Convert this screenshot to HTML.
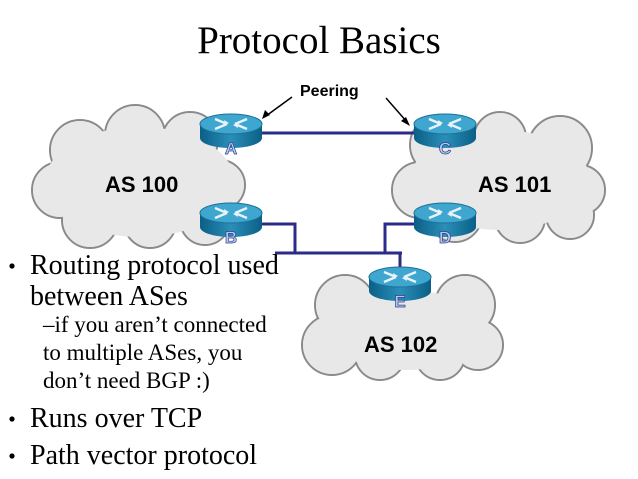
<!DOCTYPE html>
<html><head><style>
body{margin:0;width:638px;height:479px;background:#fff;overflow:hidden;position:relative;font-family:"Liberation Serif",serif}
.t{position:absolute;white-space:nowrap}
</style></head><body>
<svg width="638" height="479" style="position:absolute;left:0;top:0">
<defs>
<linearGradient id="rs" x1="0" x2="1"><stop offset="0" stop-color="#0b5f86"/><stop offset="0.5" stop-color="#2a8fb8"/><stop offset="1" stop-color="#0b5f86"/></linearGradient>
<g id="rt">
<path d="M-31 10V24A31 10 0 0 0 31 24V10Z" fill="url(#rs)"/>
<ellipse cx="0" cy="10" rx="31" ry="10" fill="#3ea6cf" stroke="#1a7099" stroke-width="1"/>
<g stroke="#e8f4fa" stroke-width="2.4" fill="none">
<path d="M-16 5L-4 10M16 15L4 10M-16 15L-4 10M16 5L4 10"/>
</g>
<g fill="#e8f4fa"><path d="M-2 9L-7 6L-6 11Z"/><path d="M2 11L7 14L6 9Z"/></g>
</g>
</defs>
<g stroke="#8a8a8a" stroke-width="2" fill="#e8e8e8">
<circle cx="80" cy="150" r="30"/><circle cx="135" cy="135" r="30"/><circle cx="190" cy="140" r="28"/>
<circle cx="60" cy="190" r="28"/><circle cx="220" cy="185" r="25"/><circle cx="90" cy="220" r="28"/>
<circle cx="150" cy="222" r="26"/><circle cx="205" cy="220" r="25"/>
<circle cx="440" cy="145" r="30"/><circle cx="500" cy="138" r="26"/><circle cx="560" cy="148" r="32"/>
<circle cx="420" cy="190" r="28"/><circle cx="580" cy="190" r="25"/><circle cx="455" cy="215" r="27"/>
<circle cx="520" cy="218" r="25"/><circle cx="570" cy="215" r="24"/>
<circle cx="345" cy="305" r="30"/><circle cx="405" cy="295" r="25"/><circle cx="465" cy="305" r="30"/>
<circle cx="332" cy="345" r="30"/><circle cx="478" cy="345" r="25"/><circle cx="380" cy="355" r="25"/>
<circle cx="440" cy="355" r="25"/>
</g>
<g fill="#e8e8e8" stroke="none">
<circle cx="80" cy="150" r="29"/><circle cx="135" cy="135" r="29"/><circle cx="190" cy="140" r="27"/>
<circle cx="60" cy="190" r="27"/><circle cx="220" cy="185" r="24"/><circle cx="90" cy="220" r="27"/>
<circle cx="150" cy="222" r="25"/><circle cx="205" cy="220" r="24"/>
<ellipse cx="140" cy="182" rx="95" ry="55"/>
<circle cx="440" cy="145" r="29"/><circle cx="500" cy="138" r="25"/><circle cx="560" cy="148" r="31"/>
<circle cx="420" cy="190" r="27"/><circle cx="580" cy="190" r="24"/><circle cx="455" cy="215" r="26"/>
<circle cx="520" cy="218" r="24"/><circle cx="570" cy="215" r="23"/>
<ellipse cx="500" cy="180" rx="90" ry="50"/>
<circle cx="345" cy="305" r="29"/><circle cx="405" cy="295" r="24"/><circle cx="465" cy="305" r="29"/>
<circle cx="332" cy="345" r="29"/><circle cx="478" cy="345" r="24"/><circle cx="380" cy="355" r="24"/>
<circle cx="440" cy="355" r="24"/>
<ellipse cx="405" cy="330" rx="80" ry="40"/>
</g>
<g stroke="#2b2b8a" stroke-width="3" fill="none">
<path d="M255 133H420"/>
<path d="M255 224H295V253"/>
<path d="M275 253H402"/>
<path d="M418 224H385V253"/>
<path d="M400 253V272"/>
</g>
<g stroke="#000" stroke-width="1.5">
<path d="M292 97L266 116"/><path d="M386 98L407 122"/>
</g>
<path d="M262 119L265 110L270 115Z"/><path d="M410 126L401 121L406 117Z"/>
<use href="#rt" x="231" y="114"/>
<use href="#rt" x="445" y="114"/>
<use href="#rt" x="231" y="203"/>
<use href="#rt" x="445" y="203"/>
<use href="#rt" x="400" y="267"/>
<g font-family="Liberation Sans,sans-serif" font-weight="bold" font-size="17" fill="#b9c8f0" stroke="#2b3f8a" stroke-width="0.7" text-anchor="middle">
<text x="231" y="154">A</text><text x="445" y="154">C</text>
<text x="231" y="243">B</text><text x="445" y="243">D</text>
<text x="400" y="307">E</text>
</g>
<g fill="#000"><circle cx="12" cy="266" r="2.6"/><circle cx="12" cy="419" r="2.6"/><circle cx="12" cy="456" r="2.6"/></g>
</svg>
<div class="t" style="left:0;width:638px;text-align:center;top:18px;font-size:39px">Protocol Basics</div>
<div class="t" style="left:300px;top:83px;font:bold 16px 'Liberation Sans',sans-serif">Peering</div>
<div class="t" style="left:105px;top:172px;font:bold 22px 'Liberation Sans',sans-serif">AS 100</div>
<div class="t" style="left:478px;top:172px;font:bold 22px 'Liberation Sans',sans-serif">AS 101</div>
<div class="t" style="left:364px;top:332px;font:bold 22px 'Liberation Sans',sans-serif">AS 102</div>
<div class="t" style="left:30px;top:250px;font-size:28px;line-height:31px">Routing protocol used<br>between ASes</div>
<div class="t" style="left:43px;top:311px;font-size:23px;line-height:28px">–if you aren’t connected<br>to multiple ASes, you<br>don’t need BGP :)</div>
<div class="t" style="left:30px;top:403px;font-size:28px">Runs over TCP</div>
<div class="t" style="left:30px;top:440px;font-size:28px">Path vector protocol</div>
</body></html>
